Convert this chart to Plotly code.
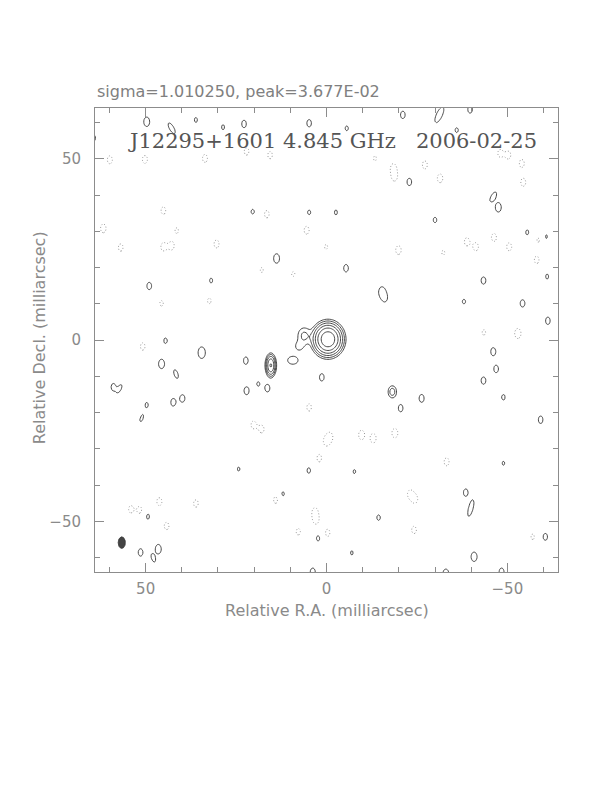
import numpy as np
import plotly.graph_objects as go

# ---------------- data (mas, relative to map centre) ----------------
# source components: x (RA offset), y (Dec offset), peak, FWHM minor (x), FWHM major (y), tilt (deg, screen)
src_x = [-0.4, 6.2, 7.6, 9.3, 15.4, -18.2]
src_y = [0.2, 1.2, -1.8, -5.6, -7.0, -14.3]
src_amp = [31.0, 1.3, 0.75, 0.9, 9.5, 1.6]
src_fx = [4.15, 3.0, 2.5, 3.4, 1.6, 1.9]
src_fy = [4.6, 3.8, 2.6, 2.6, 3.4, 2.7]
src_pa = [0, 0, 0, 0, 0, 0]

# elongated noise features (positive)
elo_x = [42.8, -31.2, -46.1, -39.9, 41.6, 57.1, 51.1, 47.9]
elo_y = [58.4, 62.1, 39.5, -46.4, -9.4, -13.3, -21.6, -60.2]
elo_amp = [0.9, 1.0, 0.9, 1.0, 0.85, 0.75, 0.75, 0.8]
elo_fx = [1.5, 1.8, 1.5, 1.4, 1.4, 1.2, 1.2, 1.3]
elo_fy = [4.0, 5.0, 3.5, 5.0, 3.2, 3.0, 3.0, 3.0]
elo_pa = [-30, 25, 30, 15, -20, 25, 20, -20]

# positive noise spots (beam shaped)
pos_x = [64.5, 49.7, 36.1, 28.6, 22.8, 4.8, -5.6, -21.1, -39.7, -36.0, -22.9, -47.5,
         20.4, -2.6, 4.8, -30.0, 13.8, -5.4, 49.0, 31.9, -43.4, -15.3, -16.2, -54.2,
         -60.7, -61.0, -55.5, -38.0, 44.5, 34.5, 45.6, 58.9, 49.7, 42.4, 39.8,
         22.3, 22.1, 16.3, 18.9, 1.3, -26.3, -20.5, -59.2, 24.3, 4.9, -7.7, -48.9,
         12.1, -38.5, 49.4, -14.4, 2.3, -60.5, 51.4, 46.5, -7.0, -40.8, 3.8, -33.0,
         -48.4, -61.2, -46.1, -46.9, -43.4, -48.9]
pos_y = [55.7, 60.2, 60.7, 58.7, 59.6, 59.8, 58.4, 62.1, 63.6, 57.9, 43.6, 36.6,
         35.4, 35.2, 35.2, 33.1, 22.5, 19.8, 14.9, 16.4, 16.4, 13.3, 11.5, 10.1,
         28.5, 17.5, 29.7, 10.6, -0.2, -3.5, -6.6, -13.0, -17.9, -17.2, -16.1,
         -5.7, -14.0, -13.3, -12.1, -10.3, -16.1, -18.8, -22.0, -35.6, -36.0, -36.3, -34.0,
         -42.5, -42.1, -48.7, -49.0, -54.7, -54.3, -58.6, -57.7, -58.7, -59.8, -64.0, -64.5,
         -64.0, 5.3, -3.2, -8.0, -11.2, -15.8]
pos_amp = [0.72, 0.85, 0.62, 0.62, 0.72, 0.72, 0.62, 0.72, 0.72, 0.62, 0.72, 0.85,
           0.62, 0.62, 0.62, 0.64, 0.85, 0.72, 0.72, 0.62, 0.72, 0.85, 0.62, 0.72,
           0.62, 0.62, 0.62, 0.62, 0.64, 1.05, 0.85, 0.72, 0.62, 0.72, 0.72,
           0.72, 0.75, 0.72, 0.6, 0.72, 0.75, 0.72, 0.72, 0.6, 0.64, 0.6, 0.6,
           0.64, 0.72, 0.64, 0.64, 0.64, 0.7, 0.72, 0.85, 0.6, 0.85, 0.75, 0.85,
           0.75, 0.72, 0.75, 0.72, 0.72, 0.64]

# negative noise spots (dotted)
neg_x = [59.9, 50.2, 33.6, 22.1, 15.6, -13.4, -18.5, -18.8, -27.2, -31.4, -48.0, -50.3,
         -54.0, -54.4, 61.7, 45.1, 56.9, 45.1, 42.8, 41.4, 30.4, 16.5, 5.5, 0.1,
         17.9, 9.2, -19.9, -38.8, -41.3, -46.3, -50.5, -58.1, -58.6, -32.3, 45.6, 32.4,
         50.8, 4.8, -52.9, -43.5, 20.2, 17.9, -1.0, 0.1, -9.7, -12.9, -18.9, 2.0,
         -33.2, -23.1, -24.5, 46.2, 36.1, 14.0, 54.1, 51.6, 44.2, 3.2, 2.9, 7.8,
         -0.3, -24.2, -57.0]
neg_y = [49.7, 49.8, 50.1, 52.0, 51.0, 50.1, 47.5, 45.0, 48.3, 44.6, 51.5, 51.0,
         48.7, 43.5, 30.8, 35.7, 25.5, 25.7, 26.0, 30.2, 26.5, 34.7, 30.3, 25.7,
         19.3, 18.2, 24.8, 27.1, 25.7, 28.3, 25.7, 22.1, 27.6, 24.1, 10.1, 10.8,
         -1.8, -18.6, 1.8, 2.1, -23.4, -24.6, -26.7, -28.0, -26.2, -27.1, -25.7, -32.6,
         -33.6, -42.5, -43.9, -44.6, -45.1, -44.1, -46.7, -46.9, -51.3, -47.4, -49.7, -52.9,
         -53.2, -52.4, -54.3]
neg_amp = [-0.75, -0.75, -0.75, -0.72, -0.72, -0.62, -0.75, -0.75, -0.75, -0.8, -0.72, -0.72,
           -0.75, -0.75, -0.8, -0.72, -0.72, -0.75, -0.75, -0.64, -0.75, -0.72, -0.75, -0.62,
           -0.62, -0.62, -0.8, -0.75, -0.75, -0.75, -0.75, -0.72, -0.64, -0.62, -0.64, -0.64,
           -0.72, -0.72, -0.9, -0.64, -0.72, -0.72, -0.72, -0.72, -0.85, -0.85, -0.85, -0.72,
           -0.75, -0.72, -0.72, -0.75, -0.72, -0.72, -0.7, -0.7, -0.72, -0.72, -0.72, -0.68,
           -0.72, -0.72, -0.64]

# restoring beam
beam_x, beam_y, beam_minor, beam_major = 56.6, -55.9, 2.0, 3.2

# contour levels: lowest level and doubling steps
base_level = 0.55
n_levels = 6

title_main = "J12295+1601 4.845 GHz   2006-02-25"
title_top = "sigma=1.010250, peak=3.677E-02"
xlabel = "Relative R.A. (milliarcsec)"
ylabel = "Relative Decl. (milliarcsec)"
tick_vals = [50, 0, -50]
tick_text = ["50", "0", "\u221250"]
half_size = 64.0

# ---------------- model image ----------------
grid = np.linspace(-half_size, half_size, 321)
X, Y = np.meshgrid(grid, grid)
Z = np.zeros_like(X)
K = 2.0 * np.sqrt(2.0 * np.log(2.0))
noise_fx, noise_fy = 2.1, 3.3


def add_gauss(x0, y0, amp, fx, fy, pa):
    sx, sy = fx / K, fy / K
    t = np.deg2rad(pa)
    dxs = -(X - x0)  # screen-right positive (RA axis reversed)
    dys = Y - y0
    a = dxs * np.sin(t) + dys * np.cos(t)
    b = dxs * np.cos(t) - dys * np.sin(t)
    return amp * np.exp(-0.5 * (a * a / (sy * sy) + b * b / (sx * sx)))


for i in range(len(src_x)):
    Z += add_gauss(src_x[i], src_y[i], src_amp[i], src_fx[i], src_fy[i], src_pa[i])
for i in range(len(elo_x)):
    Z += add_gauss(elo_x[i], elo_y[i], elo_amp[i], elo_fx[i], elo_fy[i], elo_pa[i])
for i in range(len(pos_x)):
    Z += add_gauss(pos_x[i], pos_y[i], pos_amp[i], noise_fx, noise_fy, 0)
for i in range(len(neg_x)):
    Z += add_gauss(neg_x[i], neg_y[i], neg_amp[i], noise_fx, noise_fy, 0)

zpos = np.round(np.log2(np.clip(Z, 1e-3, None) / base_level), 3)
zneg = np.round(np.log2(np.clip(-Z, 1e-3, None) / base_level), 3)

fig = go.Figure()
fig.add_trace(go.Contour(
    x=grid, y=grid, z=zpos, showscale=False, hoverinfo="skip",
    contours=dict(start=0, end=n_levels - 1, size=1, coloring="none"),
    line=dict(color="#333333", width=0.9, smoothing=1.0),
))
fig.add_trace(go.Contour(
    x=grid, y=grid, z=zneg, showscale=False, hoverinfo="skip",
    contours=dict(start=0, end=0.5, size=1, coloring="none"),
    line=dict(color="#9a9a9a", width=1.0, dash="1px,2px", smoothing=1.0),
))

# beam ellipse
th = np.linspace(0, 2 * np.pi, 60)
fig.add_trace(go.Scatter(
    x=beam_x + 0.5 * beam_minor * np.cos(th), y=beam_y + 0.5 * beam_major * np.sin(th),
    mode="lines", fill="toself", fillcolor="#444444",
    line=dict(color="#333333", width=0.8), hoverinfo="skip", showlegend=False,
))

axis_common = dict(
    showgrid=False, zeroline=False, showline=True, linecolor="#8c8c8c", linewidth=1,
    mirror="ticks", ticks="inside", ticklen=9, tickwidth=1, tickcolor="#8c8c8c",
    tickvals=tick_vals, ticktext=tick_text, automargin=False,
    tickfont=dict(family="DejaVu Sans", size=15, color="#8a8a8a"),
    minor=dict(dtick=10, ticks="inside", ticklen=5, tickcolor="#8c8c8c", tickwidth=1, tick0=0),
)
fig.update_xaxes(range=[half_size, -half_size], ticklabelstandoff=3, **axis_common)
fig.update_yaxes(range=[-half_size, half_size], ticklabelstandoff=10, **axis_common)

fig.update_layout(
    width=612, height=792, plot_bgcolor="white", paper_bgcolor="white",
    margin=dict(l=87, r=62, t=100, b=228), showlegend=False,
    annotations=[
        dict(text=title_top, xref="paper", yref="paper", x=0.0, y=1.0366, xanchor="left",
             yanchor="middle", showarrow=False,
             font=dict(family="DejaVu Sans", size=16, color="#808080")),
        dict(text=title_main, xref="paper", yref="paper", x=0.512, y=0.929, xanchor="center",
             yanchor="middle", showarrow=False,
             font=dict(family="DejaVu Serif", size=21, color="#555555")),
        dict(text=xlabel, xref="paper", yref="paper", x=0.501, y=-0.084, xanchor="center",
             yanchor="middle", showarrow=False,
             font=dict(family="DejaVu Sans", size=16, color="#8a8a8a")),
        dict(text=ylabel, xref="paper", yref="paper", x=-0.121, y=0.506, xanchor="center",
             yanchor="middle", showarrow=False, textangle=-90,
             font=dict(family="DejaVu Sans", size=16, color="#8a8a8a")),
    ],
)

fig.write_html("out.html")
